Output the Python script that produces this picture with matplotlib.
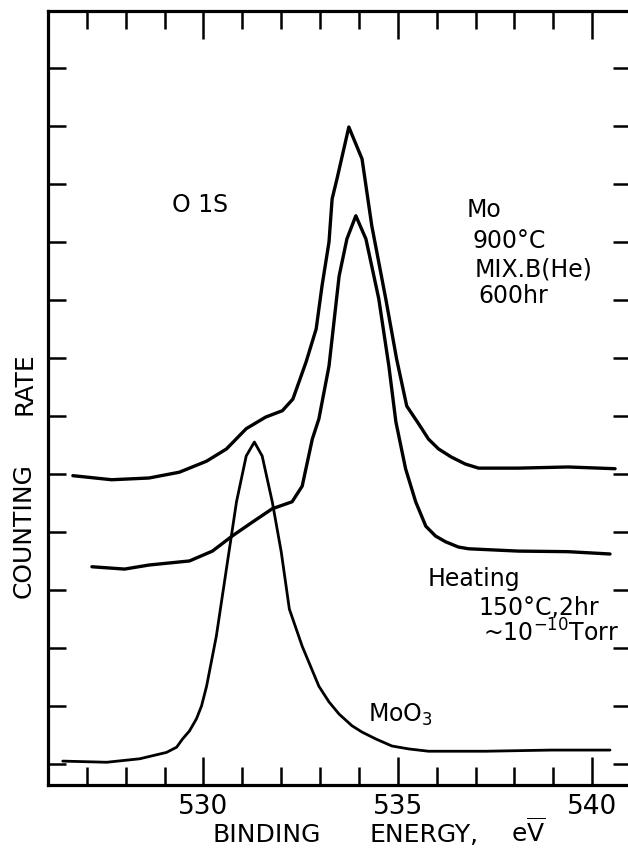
import matplotlib
matplotlib.use("Agg")
import matplotlib.pyplot as plt

# ---- data (binding energy in eV, counting rate in tick units) ----
mo_x = [526.64, 527.64, 528.6, 529.38, 530.08, 530.59, 531.1, 531.6, 532.03, 532.3,
        532.46, 532.64, 532.9, 533.05, 533.23, 533.31, 533.44, 533.74, 534.08, 534.33,
        534.69, 534.97, 535.23, 535.54, 535.79, 536.05, 536.38, 536.74, 537.08, 538.1,
        539.38, 540.59]
mo_y = [4.97, 4.90, 4.93, 5.03, 5.22, 5.43, 5.78, 5.98, 6.09, 6.29,
        6.59, 6.93, 7.5, 8.24, 9.0, 9.74, 10.1, 10.98, 10.43, 9.28,
        8.02, 6.98, 6.17, 5.86, 5.6, 5.43, 5.29, 5.17, 5.10, 5.10,
        5.12, 5.09]

heat_x = [527.13, 527.97, 528.6, 529.64, 530.23, 530.74, 531.26, 531.77, 532.28, 532.54,
          532.8, 532.97, 533.23, 533.49, 533.69, 533.92, 534.18, 534.51, 534.77, 534.95,
          535.2, 535.46, 535.72, 535.97, 536.23, 536.56, 536.82, 538.1, 539.38, 540.46]
heat_y = [3.40, 3.36, 3.43, 3.5, 3.67, 3.93, 4.17, 4.4, 4.52, 4.79,
          5.6, 5.95, 6.86, 8.41, 9.05, 9.45, 9.05, 8.02, 6.86, 5.9,
          5.09, 4.52, 4.1, 3.93, 3.83, 3.74, 3.71, 3.67, 3.66, 3.62]

moo3_x = [526.38, 527.51, 528.36, 529.05, 529.31, 529.46, 529.64, 529.82, 529.95, 530.08,
          530.33, 530.59, 530.85, 531.1, 531.31, 531.51, 531.77, 532.0, 532.21, 532.54,
          532.97, 533.23, 533.49, 533.82, 534.08, 534.44, 534.85, 535.28, 535.79, 537.26,
          538.95, 540.46]
moo3_y = [0.05, 0.03, 0.09, 0.2, 0.29, 0.43, 0.57, 0.78, 1.0, 1.34,
          2.2, 3.36, 4.52, 5.31, 5.55, 5.31, 4.52, 3.66, 2.67, 2.03,
          1.34, 1.07, 0.86, 0.66, 0.55, 0.43, 0.31, 0.26, 0.22, 0.22,
          0.24, 0.24]

major_x = [530, 535, 540]
major_labels = ["530", "535", "540"]
minor_x = [527, 528, 529, 531, 532, 533, 534, 536, 537, 538, 539, 541]
y_ticks = list(range(0, 13))

W, H = 628, 854
fig = plt.figure(figsize=(W / 100, H / 100), dpi=100)
fig.patch.set_facecolor("white")


def fx(px):
    return px / W


def fy(py):
    return 1 - py / H


# axes box: left 48px, right 631px (slightly outside), top 12px, bottom 786px
ax = fig.add_axes([fx(48), fy(786), (631 - 48) / W, (786 - 12) / H])
ax.set_xlim(526, 541)
ax.set_ylim(-0.362, 12.98)

lw_curve = 2.4
kw = dict(color="black", solid_joinstyle="round", solid_capstyle="round")
ax.plot(mo_x, mo_y, lw=lw_curve, **kw)
ax.plot(heat_x, heat_y, lw=lw_curve, **kw)
ax.plot(moo3_x, moo3_y, lw=2.0, **kw)

for s in ax.spines.values():
    s.set_linewidth(2.3)
    s.set_color("black")

ax.set_xticks(major_x)
ax.set_xticklabels(major_labels)
ax.set_xticks(minor_x, minor=True)
ax.set_yticks(y_ticks)
ax.set_yticklabels([])
ax.tick_params(axis="x", which="major", direction="in", length=20, width=1.8,
               top=True, bottom=True, labelsize=19, pad=6)
ax.tick_params(axis="x", which="minor", direction="in", length=13, width=1.8,
               top=True, bottom=True)
ax.tick_params(axis="y", which="major", direction="in", length=13, width=1.8,
               left=True, right=True)

fs = 17
txt = dict(color="black", fontsize=fs, family="DejaVu Sans")

# axis labels (placed word by word to mimic wide letter spacing)
fig.text(fx(267), fy(842), "BINDING", ha="center", va="baseline", fontsize=18,
         color="black", family="DejaVu Sans")
fig.text(fx(424), fy(842), "ENERGY,", ha="center", va="baseline", fontsize=18,
         color="black", family="DejaVu Sans")
fig.text(fx(528), fy(842), r"e$\overline{\mathrm{V}}$", ha="center", va="baseline",
         fontsize=18, color="black", family="DejaVu Sans")
fig.text(fx(24), fy(531), "COUNTING", ha="center", va="center", rotation=90,
         fontsize=18, color="black", family="DejaVu Sans")
fig.text(fx(24), fy(384), "RATE", ha="center", va="center", rotation=90,
         fontsize=18, color="black", family="DejaVu Sans")

# annotations
fig.text(fx(172), fy(212), "O 1S", ha="left", va="baseline", **txt)
fig.text(fx(467), fy(217), "Mo", ha="left", va="baseline", **txt)
fig.text(fx(473), fy(248), "900°C", ha="left", va="baseline", **txt)
fig.text(fx(475), fy(276), "MIX.B(He)", ha="left", va="baseline", **txt)
fig.text(fx(478), fy(303), "600hr", ha="left", va="baseline", **txt)

fig.text(fx(428), fy(586), "Heating", ha="left", va="baseline", **txt)
fig.text(fx(478), fy(615), "150°C,2hr", ha="left", va="baseline", **txt)
fig.text(fx(483), fy(642), r"~10$^{-10}$Torr", ha="left", va="baseline", **txt)
fig.text(fx(368), fy(722), r"MoO$_3$", ha="left", va="baseline", **txt)

fig.savefig("out.png", dpi=100, facecolor="white")
